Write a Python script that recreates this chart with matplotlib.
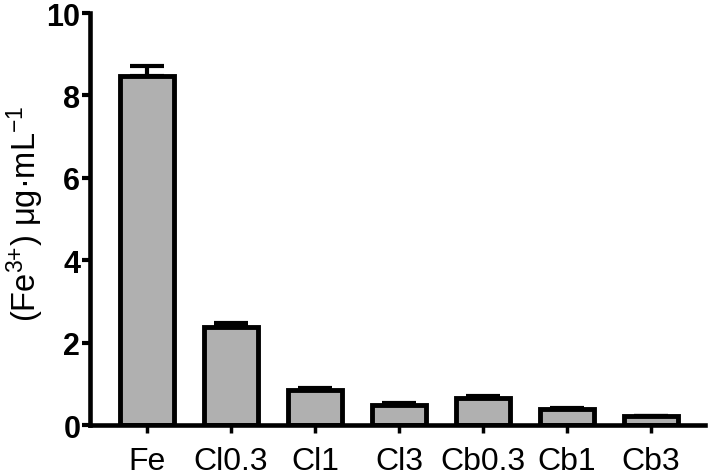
import matplotlib
matplotlib.use("Agg")
import matplotlib.pyplot as plt
import numpy as np

plt.rcParams['font.family'] = ['Liberation Sans', 'DejaVu Sans']
plt.rcParams['mathtext.fontset'] = 'custom'
plt.rcParams['mathtext.rm'] = 'Liberation Sans'
plt.rcParams['mathtext.it'] = 'Liberation Sans'
plt.rcParams['mathtext.default'] = 'regular'

categories = ["Fe", "Cl0.3", "Cl1", "Cl3", "Cb0.3", "Cb1", "Cb3"]
values = [8.48, 2.37, 0.85, 0.49, 0.65, 0.39, 0.21]
errors = [0.24, 0.11, 0.06, 0.04, 0.06, 0.02, 0.02]
y_ticks = [0, 2, 4, 6, 8, 10]

fig = plt.figure(figsize=(7.09, 4.77), dpi=100)
ax = fig.add_axes([0.127, 0.1069, 0.8674, 0.8637])

x = np.arange(len(categories))
ax.errorbar(x, values, yerr=[np.zeros(len(errors)), errors], fmt='none',
            ecolor='black', elinewidth=3, capsize=12, capthick=3, zorder=1)
ax.bar(x, values, width=0.65, color='#b0b0b0', edgecolor='black',
       linewidth=3.5, zorder=2)

ax.set_xlim(-0.679, 6.643)
ax.set_ylim(0, 10)
ax.set_yticks(y_ticks)
ax.set_xticks(x)
ax.set_xticklabels(categories, fontsize=23)
for lab in ax.get_yticklabels():
    lab.set_fontweight('bold')
    lab.set_fontsize(22)

for s in ['top', 'right']:
    ax.spines[s].set_visible(False)
for s in ['left', 'bottom']:
    ax.spines[s].set_linewidth(3.3)

ax.tick_params(axis='y', direction='out', length=6, width=3, pad=1)
ax.tick_params(axis='x', direction='out', length=6, width=2.5, pad=9)

ax.set_ylabel("(Fe$^{3{+}}$) μg·mL$^{-1}$", fontsize=23.5, labelpad=0)
ax.yaxis.label.set_y(0.515)

fig.savefig("out.png", dpi=100)
